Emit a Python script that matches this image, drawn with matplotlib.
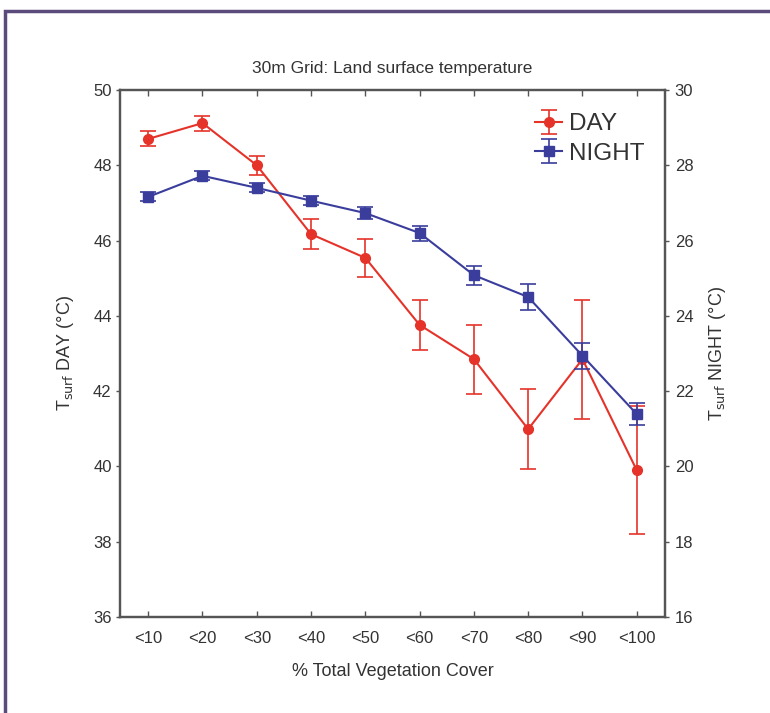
import numpy as np
import matplotlib.pyplot as plt
from matplotlib.patches import Rectangle

categories = ['<10', '<20', '<30', '<40', '<50', '<60', '<70', '<80', '<90', '<100']
day_mean = [48.70, 49.12, 48.00, 46.17, 45.54, 43.76, 42.85, 40.99, 42.85, 39.90]
day_err = [0.20, 0.20, 0.25, 0.40, 0.50, 0.66, 0.92, 1.06, 1.58, 1.70]
night_mean = [27.16, 27.72, 27.40, 27.06, 26.73, 26.20, 25.08, 24.50, 22.94, 21.39]
night_err = [0.12, 0.12, 0.12, 0.12, 0.15, 0.20, 0.25, 0.35, 0.35, 0.30]

plt.rcParams['font.family'] = ['Liberation Sans', 'DejaVu Sans']
txt = '#333333'
red = '#e5332a'
blue = '#3a3d9c'
spine_c = '#555555'

fig = plt.figure(figsize=(7.7, 7.13), dpi=100)
ax = fig.add_axes([0.1558, 0.1346, 0.7078, 0.7392])
ax2 = ax.twinx()

x = np.arange(len(categories))
hd = ax.errorbar(x, day_mean, yerr=day_err, color=red, marker='o', ms=7,
                 lw=1.5, elinewidth=1.2, capsize=6, capthick=1.2, label='DAY')
hn = ax2.errorbar(x, night_mean, yerr=night_err, color=blue, marker='s', ms=6.5,
                  lw=1.5, elinewidth=1.2, capsize=6, capthick=1.2, label='NIGHT')

ax.set_xlim(-0.52, 9.52)
ax.set_ylim(36, 50)
ax2.set_ylim(16, 30)
ax.set_yticks(np.arange(36, 51, 2))
ax2.set_yticks(np.arange(16, 31, 2))
ax.set_xticks(x)
ax.set_xticklabels(categories)

ax.tick_params(axis='x', direction='in', top=True, length=4, width=1,
               color=spine_c, labelsize=12, labelcolor=txt, pad=10)
ax.tick_params(axis='y', direction='out', length=3, width=1, color=spine_c,
               labelsize=12, labelcolor=txt, pad=3)
ax2.tick_params(axis='y', direction='out', length=3, width=1, color=spine_c,
                labelsize=12, labelcolor=txt, pad=4)
for a in (ax, ax2):
    for s in a.spines.values():
        s.set_color(spine_c)
        s.set_linewidth(1.6)

ax.set_title('30m Grid: Land surface temperature', fontsize=12.5, color=txt, pad=12)
ax.set_xlabel('% Total Vegetation Cover', fontsize=13, color=txt, labelpad=12)
ax.set_ylabel(r'T$_{\mathrm{surf}}$ DAY (°C)', fontsize=13, color=txt, labelpad=12)
ax2.set_ylabel(r'T$_{\mathrm{surf}}$ NIGHT (°C)', fontsize=13, color=txt, labelpad=10)

ax2.legend([hd, hn], ['DAY', 'NIGHT'], loc='upper right', frameon=False,
           fontsize=17.5, handlelength=1.1, handletextpad=0.3, labelspacing=0.3,
           bbox_to_anchor=(1.003, 0.997), labelcolor=txt)

fig.patches.append(Rectangle((5 / 770, -0.1), 1.2, (713 - 11) / 713 + 0.1,
                             transform=fig.transFigure, fill=False,
                             edgecolor='#5b4a7c', linewidth=2.5))

fig.savefig('out.png', dpi=100)
